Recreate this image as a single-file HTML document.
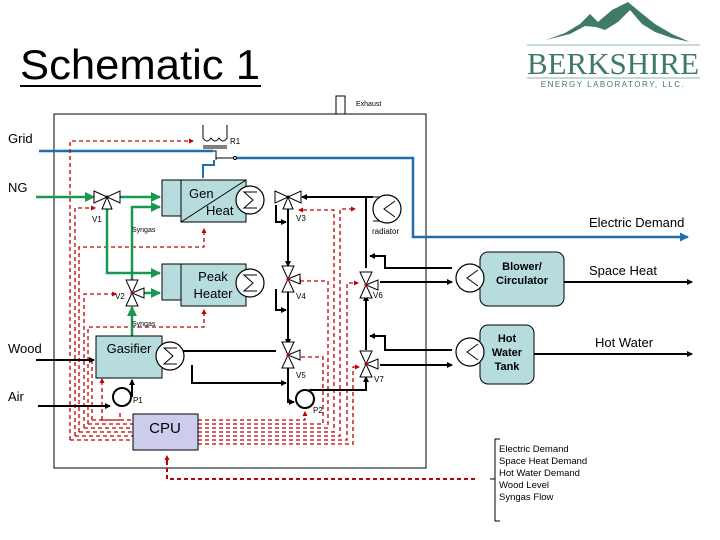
<!DOCTYPE html>
<html><head><style>html,body{margin:0;padding:0;background:#fff}svg{display:block}</style></head><body>
<svg width="720" height="540" viewBox="0 0 720 540" xmlns="http://www.w3.org/2000/svg" font-family="Liberation Sans, Arial, sans-serif">
<defs>
<marker id="ab" markerWidth="6" markerHeight="6" refX="5" refY="3" orient="auto" markerUnits="userSpaceOnUse"><path d="M0,0 L6,3 L0,6z" fill="#000"/></marker>
<marker id="ag" markerWidth="10" markerHeight="10" refX="9" refY="5" orient="auto" markerUnits="userSpaceOnUse"><path d="M0,0 L10,5 L0,10z" fill="#1a9850"/></marker>
<marker id="abl" markerWidth="9" markerHeight="9" refX="8" refY="4.5" orient="auto" markerUnits="userSpaceOnUse"><path d="M0,0 L9,4.5 L0,9z" fill="#1f6fae"/></marker>
<marker id="ar" markerWidth="5" markerHeight="5" refX="4" refY="2.5" orient="auto" markerUnits="userSpaceOnUse"><path d="M0,0 L5,2.5 L0,5z" fill="#c00000"/></marker>
<g id="valve"><path d="M-13,-6 L13,6 L13,-6 L-13,6z M0,0 L-5,12 L5,12z" fill="#fff" stroke="#000" stroke-width="1"/><circle r="1.5" fill="#000"/></g>
<g id="vvalve"><path d="M-6,-13 L6,13 L-6,13 L6,-13z M0,0 L12,-5 L12,5z" fill="#fff" stroke="#000" stroke-width="1"/><circle r="1.5" fill="#c00000"/></g>
<g id="hx"><circle r="14" fill="#fff" stroke="#000" stroke-width="1.2"/><path d="M7,-8 L-6,-8 L3,0 L-6,8 L7,8" fill="none" stroke="#000"/></g>
<g id="hx2"><circle r="14" fill="#fff" stroke="#000" stroke-width="1.2"/><path d="M8,-8 L-3,0 L8,8" fill="none" stroke="#000"/></g>
</defs>

<!-- Title -->
<text x="20" y="79" font-size="42" textLength="240" lengthAdjust="spacingAndGlyphs">Schematic 1</text>
<line x1="20" y1="86" x2="261" y2="86" stroke="#000" stroke-width="2"/>
<!-- Logo -->
<path d="M546,40 L565,33 L580,24 L590,14 L598,22 L612,10 L628,2 L640,12 L655,24 L672,34 L690,42 L672,38 L655,32 L642,24 L630,10 L618,22 L605,30 L596,27 L585,26 L570,34z" fill="#3e7a66"/>
<line x1="527" y1="45" x2="700" y2="45" stroke="#8fb3a7" stroke-width="1"/>
<text x="613" y="74" font-size="31" text-anchor="middle" fill="#3e7a66" font-family="Liberation Serif, serif" textLength="172">BERKSHIRE</text>
<line x1="527" y1="78" x2="700" y2="78" stroke="#8fb3a7" stroke-width="1"/>
<text x="613" y="87" font-size="8" text-anchor="middle" fill="#3e7a66" letter-spacing="1.5">ENERGY LABORATORY, LLC.</text>

<!-- main box -->
<rect x="54" y="114" width="372" height="354" fill="none" stroke="#000" stroke-width="1"/>
<rect x="336" y="96" width="9" height="18" fill="#fff" stroke="#000" stroke-width="1"/>
<text x="356" y="106" font-size="7">Exhaust</text>

<!-- labels left -->
<text x="8" y="143" font-size="13">Grid</text>
<text x="8" y="192" font-size="13">NG</text>
<text x="8" y="353" font-size="13">Wood</text>
<text x="8" y="401" font-size="13">Air</text>

<!-- Electric lines -->
<path d="M39,151 L213,151" stroke="#1f6fae" stroke-width="2.5" fill="none"/>
<path d="M236,158 L413,158 L413,237 L688,237" stroke="#1f6fae" stroke-width="2.5" fill="none" marker-end="url(#abl)"/>
<path d="M203,178 L203,165 L214,165 L214,160" stroke="#1f6fae" stroke-width="2" fill="none"/>
<!-- R1 -->
<path d="M203,125 L203,138 Q207,144 211,138 Q215,144 219,138 Q223,144 227,138 L227,125" fill="none" stroke="#000"/>
<line x1="203" y1="146" x2="227" y2="146" stroke="#000"/><line x1="203" y1="148" x2="227" y2="148" stroke="#000"/>
<text x="230" y="144" font-size="8">R1</text>
<path d="M213,151 L216,151 L216,160 M216,158 L234,158" stroke="#000" fill="none"/>
<circle cx="235" cy="158" r="1.5" fill="#fff" stroke="#000"/>

<!-- red dashed control lines -->
<g fill="none" stroke="#c00000" stroke-width="1.3" stroke-dasharray="4,3">
<path d="M70,440 L70,141 L193,141" marker-end="url(#ar)"/>
<path d="M75,436 L75,208 L95,208" marker-end="url(#ar)"/>
<path d="M79,432 L79,247 L204,247 L204,229" marker-end="url(#ar)"/>
<path d="M84,428 L84,294 L116,294" marker-end="url(#ar)"/>
<path d="M88,424 L88,327 L204,327 L204,310" marker-end="url(#ar)"/>
<path d="M92,420 L92,360" />
<path d="M102,420 L102,379" marker-end="url(#ar)"/>
<path d="M70,440 L133,440 M75,436 L133,436 M79,432 L133,432 M84,428 L133,428 M88,424 L133,424 M92,420 L133,420 M102,420 L120,420 L120,410" />
<path d="M198,420 L305,420 L305,412" marker-end="url(#ar)"/>
<path d="M198,424 L323,424 L323,357 L296,357" marker-end="url(#ar)"/>
<path d="M198,428 L328,428 L328,281 L297,281" marker-end="url(#ar)"/>
<path d="M198,432 L334,432 L334,210 L299,210" marker-end="url(#ar)"/>
<path d="M198,436 L340,436 L340,209 L355,209" marker-end="url(#ar)"/>
<path d="M198,440 L347,440 L347,283 L358,283" marker-end="url(#ar)"/>
<path d="M198,444 L353,444 L353,367 L359,367" marker-end="url(#ar)"/>
<path d="M167,461 L167,479 L475,479 M167,461 L167,456" stroke-width="2" marker-end="url(#ar)"/>
</g>

<!-- Green NG / syngas -->
<g fill="none" stroke="#1a9850" stroke-width="2.5">
<path d="M36,197 L94,197" marker-end="url(#ag)"/>
<path d="M120,197 L160,197" marker-end="url(#ag)"/>
<path d="M107,208 L107,273 L160,273" marker-end="url(#ag)"/>
<path d="M132,283 L132,207 L160,207" marker-end="url(#ag)"/>
<path d="M142,293 L160,293" marker-end="url(#ag)"/>
<path d="M132,336 L132,307" marker-end="url(#ag)"/>
</g>
<text x="132" y="232" font-size="7">Syngas</text>
<text x="132" y="326" font-size="7">Syngas</text>

<!-- black lines -->
<g fill="none" stroke="#000" stroke-width="2">
<path d="M366,268 L366,197 L302,197" marker-end="url(#ab)"/>
<path d="M276,205 L276,222 L286,222" marker-end="url(#ab)"/>
<path d="M288,205 L288,266" marker-end="url(#ab)"/>
<path d="M276,289 L276,310 L286,310" marker-end="url(#ab)"/>
<path d="M288,289 L288,344" marker-end="url(#ab)"/>
<path d="M183,351 L276,351"/>
<path d="M192,365 L192,383 L286,383" marker-end="url(#ab)"/>
<path d="M288,366 L288,402 L294,402" marker-end="url(#ab)"/>
<path d="M309,390 L366,390 L366,377" marker-end="url(#ab)"/>
<path d="M366,350 L366,296" marker-end="url(#ab)"/>
<path d="M452,268 L385,268 L385,256 L370,256" marker-end="url(#ab)"/>
<path d="M380,282 L452,282" marker-end="url(#ab)"/>
<path d="M452,350 L385,350 L385,336 L370,336" marker-end="url(#ab)"/>
<path d="M380,365 L452,365" marker-end="url(#ab)"/>
<path d="M36,360 L94,360" marker-end="url(#ab)"/>
<path d="M38,406 L110,406" marker-end="url(#ab)"/>
<path d="M132,397 L132,380" marker-end="url(#ab)"/>
<path d="M564,282 L692,282" marker-end="url(#ab)"/>
<path d="M534,354 L692,354" marker-end="url(#ab)"/>
<path d="M366,197 L373,197"/>
</g>

<!-- units -->
<rect x="162" y="180" width="19" height="36" fill="#b7dcdd" stroke="#000"/>
<rect x="181" y="180" width="65" height="42" fill="#b7dcdd" stroke="#000"/>
<line x1="181" y1="222" x2="246" y2="180" stroke="#000"/>
<text x="189" y="198" font-size="13">Gen</text>
<text x="206" y="215" font-size="13">Heat</text>
<rect x="162" y="264" width="19" height="36" fill="#b7dcdd" stroke="#000"/>
<rect x="181" y="264" width="65" height="42" fill="#b7dcdd" stroke="#000"/>
<text x="213" y="281" font-size="13" text-anchor="middle">Peak</text>
<text x="213" y="298" font-size="13" text-anchor="middle">Heater</text>
<rect x="96" y="336" width="66" height="42" fill="#b7dcdd" stroke="#000"/>
<text x="129" y="353" font-size="13" text-anchor="middle">Gasifier</text>
<rect x="133" y="414" width="65" height="36" fill="#ccccec" stroke="#000"/>
<text x="165" y="433" font-size="15" text-anchor="middle">CPU</text>
<rect x="480" y="252" width="84" height="54" rx="8" fill="#b7dcdd" stroke="#000"/>
<text x="522" y="270" font-size="11" font-weight="bold" text-anchor="middle">Blower/</text>
<text x="522" y="284" font-size="11" font-weight="bold" text-anchor="middle">Circulator</text>
<rect x="480" y="325" width="54" height="59" rx="8" fill="#b7dcdd" stroke="#000"/>
<text x="507" y="342" font-size="11" font-weight="bold" text-anchor="middle">Hot</text>
<text x="507" y="356" font-size="11" font-weight="bold" text-anchor="middle">Water</text>
<text x="507" y="370" font-size="11" font-weight="bold" text-anchor="middle">Tank</text>

<!-- heat exchangers -->
<use href="#hx" x="250" y="200"/>
<use href="#hx" x="250" y="283"/>
<use href="#hx" x="170" y="356"/>
<path d="M373,197 L383,197 M373,221 L383,221" stroke="#000"/>
<use href="#hx2" x="387" y="209"/>
<text x="372" y="234" font-size="8">radiator</text>
<use href="#hx2" x="470" y="278"/>
<use href="#hx2" x="470" y="352"/>

<!-- valves -->
<use href="#valve" x="107" y="197"/><text x="92" y="222" font-size="8">V1</text>
<use href="#vvalve" x="132" y="293"/><text x="115" y="299" font-size="8">V2</text>
<use href="#valve" x="288" y="197"/><text x="296" y="221" font-size="8">V3</text>
<use href="#vvalve" x="288" y="279"/><text x="296" y="299" font-size="8">V4</text>
<use href="#vvalve" x="288" y="355"/><text x="296" y="378" font-size="8">V5</text>
<use href="#vvalve" x="366" y="285"/><text x="373" y="298" font-size="8">V6</text>
<use href="#vvalve" x="366" y="364"/><text x="374" y="382" font-size="8">V7</text>

<!-- pumps -->
<circle cx="122" cy="397" r="9" fill="#fff" stroke="#000" stroke-width="2"/><text x="133" y="403" font-size="8">P1</text>
<circle cx="305" cy="399" r="9" fill="#fff" stroke="#000" stroke-width="2"/><text x="313" y="413" font-size="8">P2</text>

<!-- right labels -->
<text x="589" y="227" font-size="13">Electric Demand</text>
<text x="589" y="275" font-size="13">Space Heat</text>
<text x="595" y="347" font-size="13">Hot Water</text>

<!-- bracket -->
<path d="M500,439 L495,439 L495,521 L500,521 M495,479 L490,479" fill="none" stroke="#000"/>
<g font-size="9.5"><text x="499" y="452">Electric Demand</text><text x="499" y="464">Space Heat Demand</text><text x="499" y="476">Hot Water Demand</text><text x="499" y="488">Wood Level</text><text x="499" y="500">Syngas Flow</text></g>
</svg>
</body></html>
